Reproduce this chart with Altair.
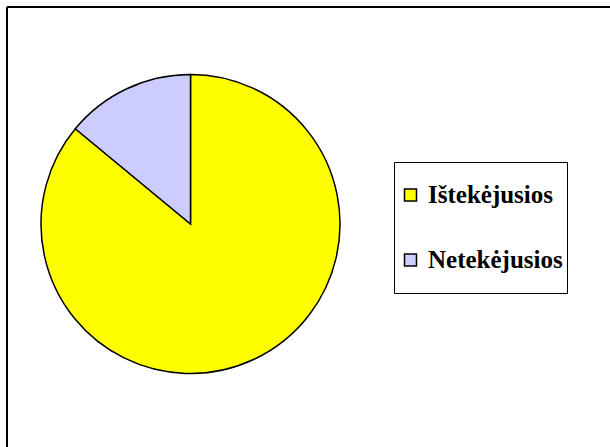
import altair as alt
import pandas as pd

categories = ["Ištekėjusios", "Netekėjusios"]
values = [86, 14]
order_idx = [0, 1]
colors = ["#FFFF00", "#CCCCFF"]

df = pd.DataFrame({"cat": categories, "val": values, "idx": order_idx})

pie = alt.Chart(df).mark_arc(
    outerRadius=149.5, stroke="black", strokeWidth=1.5, opacity=1
).encode(
    theta=alt.Theta("val:Q", stack=True),
    order=alt.Order("idx:Q"),
    fill=alt.Fill(
        "cat:N",
        scale=alt.Scale(domain=categories, range=colors),
        legend=alt.Legend(
            title=None,
            orient="none",
            legendX=387,
            legendY=155,
            padding=4,
            strokeColor="black",
            fillColor="white",
            symbolType="square",
            symbolSize=144,
            symbolStrokeColor="black",
            symbolStrokeWidth=1.5,
            symbolOpacity=1,
            labelFont="Liberation Serif",
            labelFontWeight="bold",
            labelFontSize=25,
            labelColor="black",
            labelOffset=5,
            labelLimit=300,
            labelExpr="datum.label + '  '",
            clipHeight=58,
            rowPadding=7,
        ),
    ),
    x=alt.value(183.5),
    y=alt.value(217),
)

frame_top = alt.Chart(df).mark_rule(color="black", strokeWidth=2).encode(
    x=alt.value(0), x2=alt.value(603), y=alt.value(0)
)
frame_left = alt.Chart(df).mark_rule(color="black", strokeWidth=2).encode(
    x=alt.value(0), y=alt.value(0), y2=alt.value(440)
)

chart = alt.layer(frame_top, frame_left, pie).properties(
    width=603,
    height=440,
    autosize=alt.AutoSizeParams(type="none"),
    padding={"left": 7, "top": 7, "right": 0, "bottom": 0},
    background="white",
).configure_view(stroke=None)

chart.save("out.html", embed_options={"renderer": "svg", "actions": False})
